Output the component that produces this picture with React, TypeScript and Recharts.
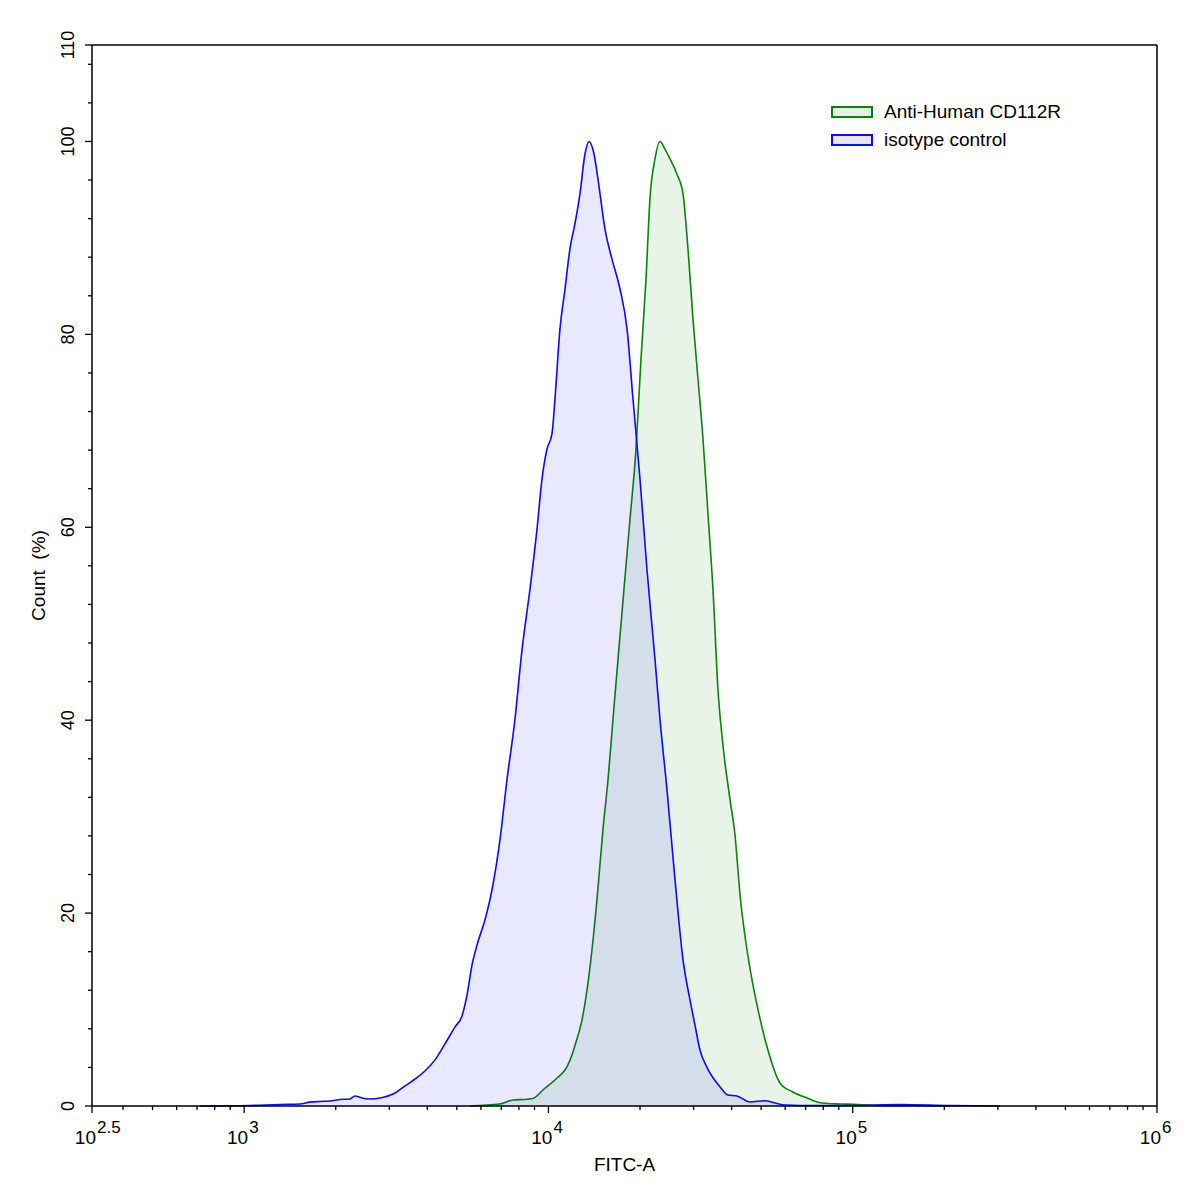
import React from 'react';
import { ComposedChart, Area, XAxis, YAxis, ReferenceLine, Legend } from 'recharts';

// ---- data ----
const isotypeFitc = [716, 1045, 1312, 1526, 1645, 1775, 1914, 2065, 2228, 2313, 2440, 2592, 2795, 3131, 3378, 3643, 3929, 4239, 4571, 4932, 5199, 5399, 5608, 5825, 6187, 6523, 6930, 7306, 7763, 8188, 8698, 9172, 9524, 9890, 10273, 10508, 10914, 11335, 11771, 12227, 12697, 13186, 13593, 14118, 14550, 15342, 16176, 17186, 18121, 18962, 19994, 21082, 22397, 23258, 24524, 26054, 27677, 29184, 30310, 31480, 33190, 36610, 38900, 41660, 45960, 51460, 55530, 59910, 67100, 100000, 143000, 208700, 304700];
const isotypeCount = [0, 0.05, 0.16, 0.2, 0.4, 0.47, 0.52, 0.67, 0.73, 1.04, 0.83, 0.73, 0.83, 1.35, 2.08, 2.8, 3.63, 4.78, 6.44, 8.2, 9.34, 11.5, 14.6, 16.7, 19.3, 22.4, 27.6, 33.8, 40.1, 47.3, 53.6, 59.8, 65.0, 68.1, 69.7, 73.3, 80.6, 84.7, 88.9, 91.5, 94.6, 98.7, 100, 98.7, 96.1, 90.9, 87.8, 84.7, 80.6, 73.3, 65.0, 55.6, 46.3, 40.1, 32.8, 23.5, 15.2, 11.0, 8.4, 5.8, 4.0, 2.0, 1.14, 1.04, 0.42, 0.55, 0.31, 0.1, 0.05, 0.05, 0.15, 0.05, 0];

const cd112rFitc = [5523, 6930, 7645, 8503, 8898, 9596, 10668, 11508, 12042, 12227, 12891, 13388, 13905, 14440, 15112, 15695, 16300, 16929, 17716, 18535, 19396, 20143, 20922, 21563, 22397, 23258, 24155, 25089, 26451, 27677, 28743, 29854, 31008, 32200, 33440, 34730, 36070, 37460, 39500, 41030, 42620, 44260, 46660, 48830, 52640, 57660, 63640, 70730, 79250, 90810, 100200, 122900, 208700];
const cd112rCount = [0, 0.2, 0.62, 0.7, 0.78, 1.66, 2.9, 4.05, 5.6, 6.3, 8.9, 12.0, 16.2, 21.4, 28.7, 33.8, 40.1, 46.3, 53.6, 60.8, 68.1, 77.4, 85.7, 94.1, 98.2, 100, 99.2, 98.2, 96.6, 94.6, 88.9, 81.6, 75.4, 69.2, 61.4, 53.6, 43.2, 37.4, 31.8, 28.1, 21.9, 17.6, 13.1, 10.0, 5.8, 2.39, 1.45, 0.83, 0.31, 0.21, 0.18, 0.05, 0];

const seriesNames = ['Anti-Human CD112R', 'isotype control'];
const seriesStrokes = ['#0a850a', '#0a0aff'];

const xMajorTicks = [316.227766, 1000, 10000, 100000, 1000000];
const xMajorExponents = ['2.5', '3', '4', '5', '6'];
const xMinorTicks = [400, 500, 600, 700, 800, 900, 2000, 3000, 4000, 5000, 6000, 7000, 8000, 9000, 20000, 30000, 40000, 50000, 60000, 70000, 80000, 90000, 200000, 300000, 400000, 500000, 600000, 700000, 800000, 900000];
const yMajorTicks = [0, 20, 40, 60, 80, 100, 110];
const yMinorTicks = [4, 8, 12, 16, 24, 28, 32, 36, 44, 48, 52, 56, 64, 68, 72, 76, 84, 88, 92, 96, 104, 108];

const FONT = '"Liberation Sans", Arial, Helvetica, sans-serif';

function buildData() {
  const rows = new Map<number, any>();
  isotypeFitc.forEach((x, i) => {
    const r = rows.get(x) || { fitc: x };
    r.iso = isotypeCount[i];
    rows.set(x, r);
  });
  cd112rFitc.forEach((x, i) => {
    const r = rows.get(x) || { fitc: x };
    r.cd = cd112rCount[i];
    rows.set(x, r);
  });
  return Array.from(rows.values()).sort((a, b) => a.fitc - b.fitc);
}

const data = buildData();
const xTicks = [...xMajorTicks, ...xMinorTicks].sort((a, b) => a - b);
const yTicks = [...yMajorTicks, ...yMinorTicks].sort((a, b) => a - b);

const XTick = (props: any) => {
  const { x, y, payload } = props;
  const v = payload.value;
  const idx = xMajorTicks.findIndex((t) => Math.abs(Math.log10(t) - Math.log10(v)) < 1e-6);
  const major = idx >= 0;
  return (
    <g>
      <line x1={x} x2={x} y1={y} y2={y + (major ? 7 : 4)} stroke="#000" strokeWidth={1.3} />
      {major && (
        <g fontFamily={FONT} fill="#000">
          <text x={x + 4} y={y + 38} textAnchor="end" fontSize={19}>10</text>
          <text x={x + 5} y={y + 27} textAnchor="start" fontSize={17}>{xMajorExponents[idx]}</text>
        </g>
      )}
    </g>
  );
};

const YTick = (props: any) => {
  const { x, y, payload } = props;
  const v = payload.value;
  const major = yMajorTicks.includes(v);
  const tx = x - 18;
  return (
    <g>
      <line x1={x - (major ? 7 : 4)} x2={x} y1={y} y2={y} stroke="#000" strokeWidth={1.3} />
      {major && (
        <text x={tx} y={y} transform={`rotate(-90 ${tx} ${y})`} textAnchor="middle" fontSize={18} fontFamily={FONT} fill="#000">
          {v}
        </text>
      )}
    </g>
  );
};

const LegendContent = () => (
  <div style={{ fontFamily: FONT, fontSize: 19, color: '#000', lineHeight: '28px' }}>
    {seriesNames.map((name, i) => (
      <div key={name} style={{ display: 'flex', alignItems: 'center', height: 28 }}>
        <div
          style={{
            width: 38,
            height: 8,
            border: `2px solid ${seriesStrokes[i]}`,
            background: i === 0 ? '#e4f1e4' : '#e6e6fc',
            marginRight: 11,
            flexShrink: 0,
          }}
        />
        <span style={{ whiteSpace: 'nowrap' }}>{name}</span>
      </div>
    ))}
  </div>
);

export default function App() {
  return (
    <div style={{ position: 'absolute', left: 0, top: 0, width: 1197, height: 1193, background: '#fff' }}>
      <ComposedChart
        width={1197}
        height={1193}
        data={data}
        margin={{ top: 45, right: 40, bottom: 0, left: 0 }}
      >
        <XAxis
          dataKey="fitc"
          type="number"
          scale="log"
          domain={[316.227766, 1000000]}
          allowDataOverflow
          ticks={xTicks}
          interval={0}
          tickSize={0}
          tickMargin={0}
          tickLine={false}
          tick={<XTick />}
          height={87}
          axisLine={{ stroke: '#000', strokeWidth: 1.5 }}
          label={(p: any) => {
            const vb = p.viewBox || {};
            return (
              <text x={vb.x + vb.width / 2} y={vb.y + 65} textAnchor="middle" fontSize={19} fontFamily={FONT} fill="#000">
                FITC-A
              </text>
            );
          }}
        />
        <YAxis
          type="number"
          domain={[0, 110]}
          ticks={yTicks}
          interval={0}
          tickSize={0}
          tickMargin={0}
          tickLine={false}
          tick={<YTick />}
          width={92}
          axisLine={{ stroke: '#000', strokeWidth: 1.5 }}
          label={(p: any) => {
            const vb = p.viewBox || {};
            const lx = vb.x + 45;
            const ly = vb.y + vb.height / 2;
            return (
              <text
                x={lx}
                y={ly}
                transform={`rotate(-90 ${lx} ${ly})`}
                textAnchor="middle"
                fontSize={19}
                fontFamily={FONT}
                fill="#000"
                style={{ whiteSpace: 'pre' }}
              >
                {'Count  (%)'}
              </text>
            );
          }}
        />
        <ReferenceLine y={110} stroke="#000" strokeWidth={1.5} />
        <ReferenceLine x={1000000} stroke="#000" strokeWidth={1.5} />
        <Area
          type="monotone"
          dataKey="cd"
          name={seriesNames[0]}
          stroke={seriesStrokes[0]}
          strokeWidth={1.6}
          fill="#008000"
          fillOpacity={0.09}
          connectNulls
          dot={false}
          activeDot={false}
          isAnimationActive={false}
        />
        <Area
          type="monotone"
          dataKey="iso"
          name={seriesNames[1]}
          stroke={seriesStrokes[1]}
          strokeWidth={1.6}
          fill="#0000ff"
          fillOpacity={0.09}
          connectNulls
          dot={false}
          activeDot={false}
          isAnimationActive={false}
        />
        <Legend
          layout="horizontal"
          verticalAlign="middle"
          align="center"
          content={<LegendContent />}
          wrapperStyle={{ left: 831, top: 98, width: 'auto', height: 'auto' }}
        />
      </ComposedChart>
    </div>
  );
}
